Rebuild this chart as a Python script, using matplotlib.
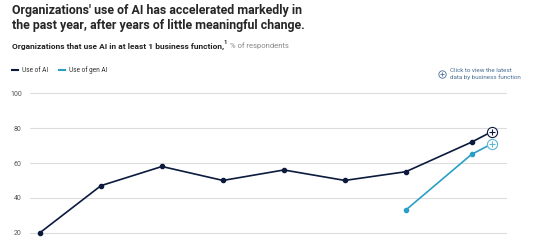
import matplotlib.pyplot as plt
from matplotlib.lines import Line2D

# data
years = [2017, 2018, 2019, 2020, 2021, 2022, 2023, 2024.08, 2024.41]
use_ai = [20, 47, 58, 50, 56, 50, 55, 72, 78]
gen_years = [2023, 2024.08, 2024.41]
use_gen_ai = [33, 65, 71]
yticks = [20, 40, 60, 80, 100]

navy = '#0b1a3d'
cyan = '#2a9fc6'
W, H = 540, 240

plt.rcParams['font.family'] = ['Roboto', 'DejaVu Sans']

fig = plt.figure(figsize=(5.4, 2.4), dpi=100)
ax = fig.add_axes([30 / W, 0, (507 - 30) / W, (240 - 91.6) / H])
ax.set_xlim(2017 - 0.164, 2024.66)
ax.set_ylim(15.8, 101)

ax.plot(years[:-1], use_ai[:-1], color=navy, lw=1.2, marker='o', ms=3, zorder=3)
ax.plot(years[-2:], use_ai[-2:], color=navy, lw=1.2, zorder=3)
ax.plot(gen_years[:-1], use_gen_ai[:-1], color=cyan, lw=1.2, marker='o', ms=3, zorder=3)
ax.plot(gen_years[-2:], use_gen_ai[-2:], color=cyan, lw=1.2, zorder=3)

# plus-circle markers on the latest points
for x, y, c in [(years[-1], use_ai[-1], navy), (gen_years[-1], use_gen_ai[-1], '#5fb6d3')]:
    ax.plot(x, y, 'o', ms=7.3, mfc='white', mec=c, mew=0.8, zorder=4, clip_on=False)
    ax.plot(x, y, '+', ms=4.5, mec=c, mew=0.8, zorder=5, clip_on=False)

ax.set_yticks(yticks)
ax.set_yticklabels([str(v) for v in yticks])
ax.set_xticks([])
ax.tick_params(axis='y', length=0, pad=6, labelsize=5, labelcolor='#555555')
ax.grid(axis='y', color='#dddddd', lw=0.8)
ax.set_axisbelow(True)
for s in ax.spines.values():
    s.set_visible(False)

# titles
fig.text(12 / W, 1 - 4 / H,
         "Organizations' use of AI has accelerated markedly in\nthe past year, after years of little meaningful change.",
         ha='left', va='top', fontsize=8.9, fontweight='bold', color='#262626',
         linespacing=1.22)

fig.canvas.draw()
r = fig.canvas.get_renderer()
t1 = fig.text(12 / W, 1 - 46 / H, "Organizations that use AI in at least 1 business function,",
              ha='left', va='center', fontsize=6.0, fontweight='bold', color='#222222')
bb = t1.get_window_extent(r)
t2 = fig.text(bb.x1 / W - 1 / W, 1 - 43 / H, "1", ha='left', va='center',
              fontsize=4.2, fontweight='bold', color='#222222')
bb2 = t2.get_window_extent(r)
fig.text(bb2.x1 / W + 3 / W, 1 - 46 / H, "% of respondents", ha='left', va='center',
         fontsize=5.5, color='#888888')

# legend
fig.add_artist(Line2D([12 / W, 18 / W], [1 - 70 / H] * 2, color=navy, lw=1.5))
fig.text(22 / W, 1 - 70 / H, "Use of AI", ha='left', va='center', fontsize=4.7, color='#333333')
fig.add_artist(Line2D([59 / W, 65 / W], [1 - 70 / H] * 2, color=cyan, lw=1.5))
fig.text(69 / W, 1 - 70 / H, "Use of gen AI", ha='left', va='center', fontsize=4.7, color='#333333')

# link note
link = '#4a6f96'
fig.add_artist(Line2D([442 / W], [1 - 74 / H], marker='o', ms=5.3, mfc='none', mec=link, mew=0.6))
fig.add_artist(Line2D([442 / W], [1 - 74 / H], marker='+', ms=3.5, mec=link, mew=0.6))
fig.text(450 / W, 1 - 74 / H, "Click to view the latest\ndata by business function",
         ha='left', va='center', fontsize=4.5, color=link, linespacing=1.4)

fig.savefig('out.png', dpi=100)
